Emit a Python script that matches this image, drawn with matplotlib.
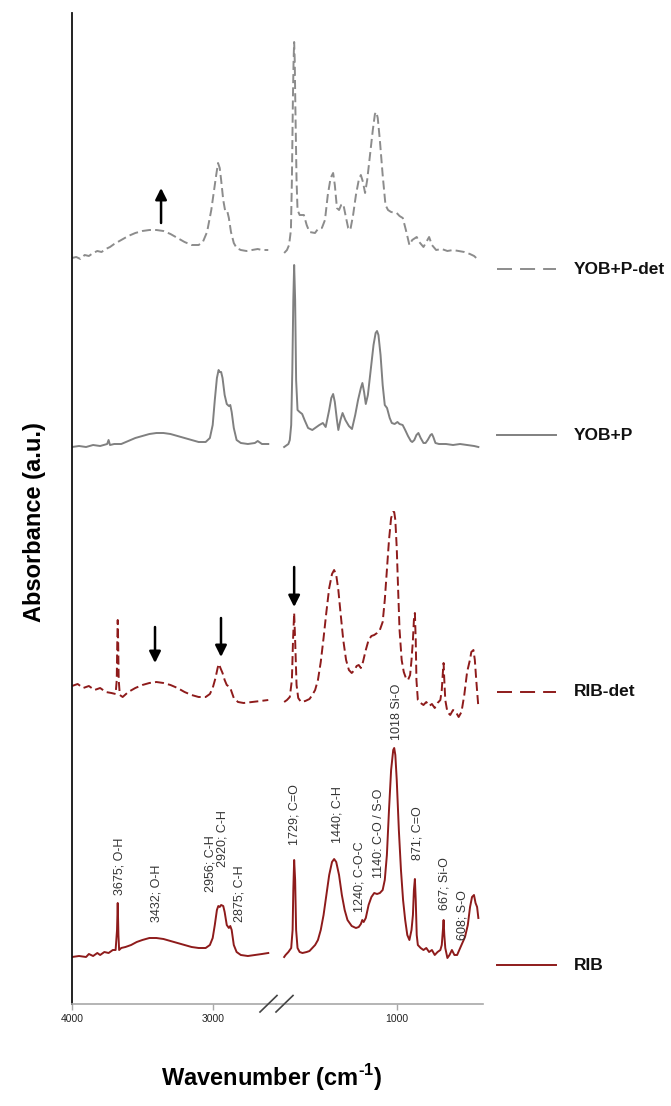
import numpy as np
import matplotlib.pyplot as plt
import matplotlib.transforms as mtransforms
from matplotlib.lines import Line2D

plt.rcParams['font.family'] = ['Liberation Sans', 'DejaVu Sans']
plt.rcParams['mathtext.fontset'] = 'custom'
plt.rcParams['mathtext.rm'] = 'Liberation Sans:bold'
plt.rcParams['mathtext.bf'] = 'Liberation Sans:bold'
plt.rcParams['lines.scale_dashes'] = False

# ---- spectra (wavenumber in cm-1, absorbance in a.u., already stacked) ----
rib_wn_l = [4000, 3950, 3900, 3880, 3850, 3820, 3800, 3770, 3740, 3710, 3690, 3680, 3675, 3670, 3665,
            3650, 3620, 3580, 3540, 3500, 3450, 3400, 3350, 3300, 3250, 3200, 3150, 3100, 3050, 3020,
            3000, 2985, 2970, 2960, 2950, 2940, 2925, 2915, 2900, 2885, 2875, 2865, 2850, 2830, 2800,
            2750, 2700, 2650, 2605]
rib_l = [47, 48, 47, 50, 48, 51, 49, 52, 51, 54, 54, 74, 101, 69, 54,
         56, 57, 59, 62, 64, 66, 66, 65, 63, 61, 59, 57, 56, 56, 59,
         66, 79, 94, 98, 97, 99, 98, 92, 79, 76, 78, 74, 59, 52, 49,
         48, 49, 50, 51]
rib_wn_r = [1800, 1790, 1770, 1750, 1740, 1735, 1729, 1722, 1715, 1705, 1690, 1670, 1640, 1620, 1600,
            1580, 1560, 1540, 1520, 1500, 1480, 1460, 1445, 1430, 1410, 1390, 1370, 1350, 1320, 1290,
            1270, 1255, 1245, 1235, 1220, 1200, 1180, 1160, 1140, 1120, 1100, 1085, 1070, 1055, 1040,
            1025, 1018, 1010, 1000, 985, 970, 955, 940, 925, 910, 895, 885, 878, 871, 865,
            858, 850, 830, 810, 790, 770, 750, 730, 710, 690, 680, 672, 667, 662, 655,
            640, 625, 608, 590, 571, 540, 515, 495, 479, 465, 451, 440, 429, 420]
rib_r = [47, 49, 52, 56, 74, 114, 144, 124, 74, 56, 52, 51, 52, 53, 56,
         59, 64, 74, 89, 109, 129, 142, 145, 142, 129, 109, 94, 84, 78, 76,
         77, 80, 84, 82, 86, 99, 107, 111, 110, 111, 114, 124, 149, 194, 234,
         254, 256, 249, 224, 174, 134, 104, 84, 69, 64, 74, 89, 114, 125, 104,
         69, 59, 56, 54, 56, 52, 54, 49, 52, 54, 59, 74, 84, 69, 56,
         46, 49, 54, 49, 49, 59, 67, 79, 97, 107, 109, 101, 97, 86]

ribdet_wn_l = [4000, 3960, 3920, 3880, 3840, 3800, 3760, 3720, 3690, 3682, 3678, 3675, 3672, 3668, 3660,
               3640, 3600, 3550, 3500, 3450, 3400, 3350, 3300, 3250, 3200, 3150, 3100, 3050, 3020, 3000,
               2980, 2965, 2956, 2945, 2930, 2915, 2900, 2880, 2870, 2850, 2820, 2780, 2720, 2660, 2605]
ribdet_l = [318, 320, 316, 318, 314, 316, 312, 311, 310, 324, 364, 384, 364, 324, 309,
            307, 312, 316, 319, 321, 322, 321, 319, 316, 312, 309, 307, 307, 310, 316,
            326, 336, 340, 336, 331, 324, 319, 317, 314, 306, 302, 301, 302, 303, 304]
ribdet_wn_r = [1800, 1780, 1760, 1745, 1737, 1729, 1722, 1712, 1700, 1680, 1650, 1620, 1600, 1580, 1560,
               1540, 1520, 1500, 1480, 1460, 1445, 1430, 1415, 1400, 1380, 1360, 1340, 1320, 1300, 1285,
               1270, 1255, 1240, 1220, 1200, 1180, 1160, 1140, 1120, 1100, 1085, 1070, 1055, 1040, 1025,
               1018, 1010, 1000, 990, 980, 965, 950, 935, 920, 905, 895, 885, 878, 871, 865,
               860, 850, 830, 810, 790, 770, 750, 730, 710, 690, 680, 672, 667, 662, 655,
               640, 620, 600, 580, 560, 540, 520, 500, 480, 470, 455, 445, 435, 420]
ribdet_r = [302, 304, 307, 324, 364, 391, 364, 319, 306, 302, 303, 305, 309, 314, 324,
            342, 366, 392, 416, 430, 434, 429, 414, 392, 364, 344, 334, 331, 334, 338,
            339, 336, 342, 354, 364, 368, 369, 371, 374, 382, 404, 434, 464, 486, 492,
            492, 484, 456, 414, 374, 344, 332, 326, 324, 329, 344, 364, 384, 391, 364,
            324, 304, 301, 299, 302, 298, 300, 296, 301, 304, 314, 332, 341, 324, 304,
            292, 289, 294, 292, 287, 292, 309, 332, 344, 352, 354, 344, 324, 297]

yob_wn_l = [4000, 3950, 3900, 3850, 3800, 3750, 3740, 3730, 3700, 3650, 3600, 3550, 3500, 3450, 3400,
            3350, 3300, 3250, 3200, 3150, 3100, 3050, 3020, 3000, 2985, 2970, 2958, 2950, 2940, 2930,
            2915, 2900, 2885, 2875, 2865, 2850, 2830, 2800, 2750, 2700, 2680, 2650, 2605]
yob_l = [557, 558, 557, 559, 558, 560, 564, 559, 560, 560, 563, 566, 568, 570, 571,
         571, 570, 568, 566, 564, 562, 562, 566, 579, 604, 626, 634, 632, 632, 626,
         609, 600, 598, 599, 592, 576, 564, 561, 560, 561, 563, 560, 560]
yob_wn_r = [1800, 1790, 1770, 1760, 1750, 1742, 1735, 1729, 1722, 1715, 1705, 1690, 1672, 1655, 1630,
            1600, 1580, 1550, 1525, 1505, 1480, 1465, 1452, 1440, 1425, 1415, 1400, 1385, 1365, 1340,
            1318, 1295, 1275, 1255, 1244, 1232, 1220, 1205, 1185, 1165, 1150, 1140, 1130, 1115, 1100,
            1085, 1069, 1050, 1035, 1015, 995, 980, 958, 940, 920, 900, 890, 875, 860, 846,
            830, 810, 795, 780, 760, 750, 740, 725, 700, 650, 600, 550, 500, 450, 420]
yob_r = [557, 558, 560, 564, 579, 634, 704, 739, 704, 624, 594, 592, 590, 584, 576,
         574, 576, 579, 581, 577, 594, 606, 610, 602, 584, 574, 584, 591, 584, 578,
         575, 589, 604, 616, 621, 612, 600, 609, 634, 659, 671, 673, 669, 649, 619,
         599, 596, 586, 581, 580, 582, 580, 579, 574, 568, 563, 562, 564, 569, 571,
         566, 561, 561, 564, 569, 570, 567, 561, 560, 560, 559, 560, 559, 558, 557]

yobdet_wn_l = [4000, 3970, 3940, 3910, 3880, 3850, 3820, 3790, 3760, 3730, 3700, 3650, 3600, 3550, 3500,
               3450, 3400, 3350, 3300, 3250, 3200, 3150, 3100, 3070, 3040, 3010, 2990, 2975, 2962, 2950,
               2940, 2925, 2910, 2895, 2885, 2870, 2850, 2830, 2800, 2760, 2720, 2680, 2650, 2605]
yobdet_l = [746, 747, 745, 749, 748, 751, 753, 752, 755, 757, 760, 764, 768, 771, 773,
            774, 774, 773, 770, 766, 762, 759, 759, 762, 772, 794, 814, 829, 841, 836,
            824, 804, 792, 792, 786, 772, 761, 756, 754, 753, 754, 755, 754, 754]
yobdet_wn_r = [1800, 1780, 1765, 1752, 1745, 1738, 1733, 1729, 1725, 1720, 1712, 1705, 1690, 1660, 1640,
               1620, 1581, 1560, 1532, 1510, 1490, 1470, 1452, 1440, 1425, 1410, 1395, 1380, 1360, 1345,
               1330, 1310, 1290, 1270, 1255, 1240, 1225, 1210, 1190, 1170, 1155, 1145, 1135, 1120, 1100,
               1080, 1062, 1040, 1000, 980, 957, 935, 910, 890, 858, 840, 810, 790, 770, 750,
               720, 680, 640, 600, 560, 520, 480, 450, 420]
yobdet_r = [751, 754, 759, 774, 824, 904, 944, 962, 944, 894, 824, 794, 789, 789, 779,
            772, 771, 775, 776, 784, 809, 826, 831, 819, 796, 794, 799, 800, 786, 776,
            774, 789, 809, 824, 829, 822, 811, 824, 849, 874, 890, 892, 886, 864, 829,
            799, 794, 792, 791, 788, 786, 774, 759, 764, 767, 762, 757, 762, 767, 759,
            754, 755, 753, 754, 753, 752, 750, 748, 744]

legend_names = ['YOB+P-det', 'YOB+P', 'RIB-det', 'RIB']
legend_y = [735, 569, 312, 39]

# peak labels: (position of text, bottom of text, label)
peak_wn = [3659, 3396, 3019, 2927, 2806, 1726, 1424, 1268, 1126, 998, 856, 664, 536]
peak_y = [109, 82, 112, 137, 82, 159, 161, 92, 126, 264, 144, 94, 64]
peak_txt = ['3675; O-H', '3432; O-H', '2956; C-H', '2920; C-H', '2875; C-H', '1729; C=O',
            '1440; C-H', '1240; C-O-C', '1140: C-O / S-O', '1018 Si-O', '871; C=O',
            '667; Si-O', '608; S-O']

# arrows: wavenumber, tail, tip
arrow_wn = [3367, 3410, 2941, 1729]
arrow_tail = [781, 377, 386, 437]
arrow_tip = [816, 341, 347, 397]

red = '#8e1b1b'
gray = '#808080'
lgray = '#8c8c8c'
dash = (0, (6.5, 3))

W, H = 671, 1106
fig = plt.figure(figsize=(W / 100, H / 100), dpi=100)


def px_rect(x0, y0, x1, y1):
    return [x0 / W, 1 - y1 / H, (x1 - x0) / W, (y1 - y0) / H]


ax1 = fig.add_axes(px_rect(72, 13, 276, 1004))
ax2 = fig.add_axes(px_rect(276, 13, 483, 1004))
ax1.set_xlim(4000, 2550)
ax2.set_xlim(1858, 387)
for ax in (ax1, ax2):
    ax.set_ylim(0, 991)
    ax.set_yticks([])
    ax.patch.set_alpha(0)
    for s in ('top', 'right'):
        ax.spines[s].set_visible(False)
    ax.spines['bottom'].set_color('#a8a8a8')
    ax.spines['bottom'].set_linewidth(1.2)
    ax.tick_params(axis='x', direction='out', length=4, width=1, color='#a8a8a8',
                   labelsize=7.5, pad=3, labelcolor='#222222')
ax1.spines['left'].set_color('#111111')
ax1.spines['left'].set_linewidth(1.3)
ax2.spines['left'].set_visible(False)
ax1.set_xticks([4000, 3000])
ax2.set_xticks([1000])

ax1.plot(yobdet_wn_l, yobdet_l, color=lgray, lw=1.4, ls=dash)
ax2.plot(yobdet_wn_r, yobdet_r, color=lgray, lw=1.4, ls=dash)
ax1.plot(yob_wn_l, yob_l, color=gray, lw=1.4)
ax2.plot(yob_wn_r, yob_r, color=gray, lw=1.4)
ax1.plot(ribdet_wn_l, ribdet_l, color=red, lw=1.4, ls=dash)
ax2.plot(ribdet_wn_r, ribdet_r, color=red, lw=1.4, ls=dash)
ax1.plot(rib_wn_l, rib_l, color=red, lw=1.4)
ax2.plot(rib_wn_r, rib_r, color=red, lw=1.4)

for w, y, t in zip(peak_wn, peak_y, peak_txt):
    ax = ax1 if w > 2000 else ax2
    ax.text(w, y, t, rotation=90, ha='center', va='bottom', fontsize=9, color='#333333')

for w, y0, y1 in zip(arrow_wn, arrow_tail, arrow_tip):
    ax = ax1 if w > 2000 else ax2
    ax.annotate('', xy=(w, y1), xytext=(w, y0),
                arrowprops=dict(arrowstyle='-|>', color='black', lw=1.8,
                                mutation_scale=17, shrinkA=0, shrinkB=0))

# legend entries beside each trace
trans = mtransforms.blended_transform_factory(ax2.transAxes, ax2.transData)
leg_styles = [(lgray, (0, (10.8, 5.8))), (gray, '-'), (red, (0, (10.8, 5.8))), (red, '-')]
for name, y, (c, ls) in zip(legend_names, legend_y, leg_styles):
    ax2.add_line(Line2D([1.068, 1.353], [y, y], transform=trans, color=c, ls=ls, lw=1.4,
                        clip_on=False))
    ax2.text(1.44, y, name, transform=trans, ha='left', va='center', fontsize=12.5,
             fontweight='bold', color='#111111', clip_on=False)

# break marks on the x axis
for x0 in (260, 276):
    fig.add_artist(Line2D([x0 / W, (x0 + 17) / W], [1 - 1012 / H, 1 - 995.5 / H],
                          color='#444444', lw=1.2))

fig.text(35 / W, 1 - 522 / H, 'Absorbance (a.u.)', rotation=90, ha='center', va='center',
         fontsize=17, fontweight='bold')
fig.text(272 / W, 1 - 1078 / H, r'Wavenumber (cm$^{\text{-1}}$)', ha='center', va='center',
         fontsize=17, fontweight='bold')

fig.savefig('out.png', dpi=100, facecolor='white')
